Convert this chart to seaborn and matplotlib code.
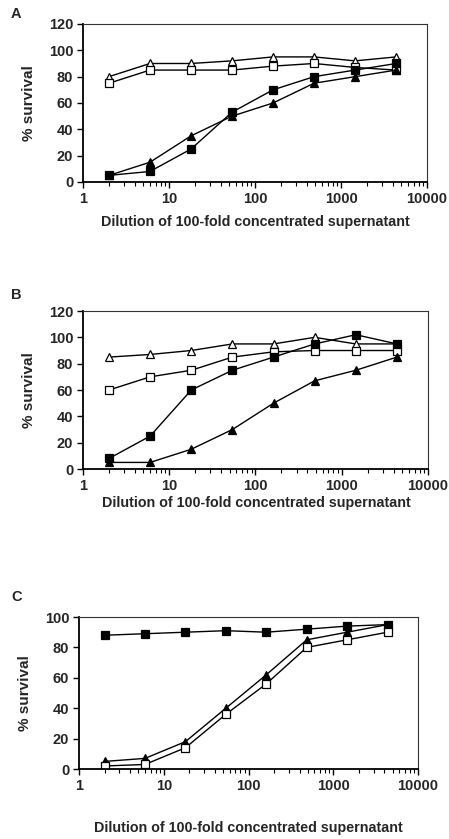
import matplotlib
matplotlib.use('Agg')
import matplotlib.pyplot as plt
import matplotlib.ticker as mticker
import seaborn as sns

dilution = [2, 6, 18, 54, 162, 486, 1458, 4374]

# panel A
a_open_tri = [80, 90, 90, 92, 95, 95, 92, 95]
a_open_sq = [75, 85, 85, 85, 88, 90, 87, 85]
a_fill_sq = [5, 8, 25, 53, 70, 80, 85, 90]
a_fill_tri = [5, 15, 35, 50, 60, 75, 80, 85]

# panel B
b_open_tri = [85, 87, 90, 95, 95, 100, 95, 95]
b_open_sq = [60, 70, 75, 85, 89, 90, 90, 90]
b_fill_sq = [8, 25, 60, 75, 85, 95, 102, 95]
b_fill_tri = [5, 5, 15, 30, 50, 67, 75, 85]

# panel C
c_fill_sq = [88, 89, 90, 91, 90, 92, 94, 95]
c_fill_tri = [5, 7, 18, 40, 62, 85, 90, 95]
c_open_sq = [2, 3, 14, 36, 56, 80, 85, 90]

sns.set_style('white')
plt.rcParams['font.family'] = ['Liberation Sans', 'DejaVu Sans']
plt.rcParams['font.weight'] = 'bold'
plt.rcParams['axes.labelweight'] = 'bold'

W, H = 449, 839
fig = plt.figure(figsize=(W / 100, H / 100), dpi=100)

styles = {
    'open_tri': dict(marker='^', markerfacecolor='white'),
    'open_sq': dict(marker='s', markerfacecolor='white'),
    'fill_sq': dict(marker='s', markerfacecolor='black'),
    'fill_tri': dict(marker='^', markerfacecolor='black'),
}


def draw_panel(rect, series, ymax, xlabel_y):
    ax = fig.add_axes(rect)
    for kind, vals in series:
        sns.lineplot(x=dilution, y=vals, ax=ax, color='black', linewidth=1,
                     markersize=5.6, markeredgecolor='black',
                     markeredgewidth=0.9, **styles[kind])
    ax.set_xscale('log')
    ax.set_xlim(1, 10000)
    ax.set_ylim(0, ymax)
    ax.set_yticks(range(0, ymax + 1, 20))
    ax.xaxis.set_major_locator(mticker.FixedLocator([1, 10, 100, 1000, 10000]))
    ax.xaxis.set_major_formatter(mticker.FixedFormatter(['1', '10', '100', '1000', '10000']))
    ax.xaxis.set_minor_locator(mticker.LogLocator(base=10, subs=range(2, 10)))
    ax.xaxis.set_minor_formatter(mticker.NullFormatter())
    ax.tick_params(axis='both', which='major', direction='out', length=4,
                   width=1, labelsize=10.5, pad=3, color='black')
    ax.tick_params(axis='x', which='minor', direction='out', length=3,
                   width=0.8, color='black')
    ax.tick_params(axis='x', which='both', bottom=True)
    ax.tick_params(axis='y', left=True)
    for t in ax.get_xticklabels() + ax.get_yticklabels():
        t.set_fontweight('bold')
    for side in ['left', 'bottom']:
        ax.spines[side].set_linewidth(1.3)
        ax.spines[side].set_color('black')
    for side in ['top', 'right']:
        ax.spines[side].set_linewidth(0.8)
        ax.spines[side].set_color('#333333')
    ax.set_ylabel('% survival', fontsize=11, fontweight='bold', labelpad=9)
    ax.set_xlabel('Dilution of 100-fold concentrated supernatant', fontsize=10.3,
                  fontweight='bold')
    ax.xaxis.label.set_va('center')
    ax.xaxis.set_label_coords(0.5, 1 - xlabel_y / H, transform=fig.transFigure)
    return ax


axA = draw_panel([0.185, 0.7831, 0.766, 0.1883],
                 [('open_tri', a_open_tri), ('open_sq', a_open_sq),
                  ('fill_sq', a_fill_sq), ('fill_tri', a_fill_tri)], 120, 222)
axB = draw_panel([0.185, 0.441, 0.768, 0.1883],
                 [('open_tri', b_open_tri), ('open_sq', b_open_sq),
                  ('fill_sq', b_fill_sq), ('fill_tri', b_fill_tri)], 120, 503)
axC = draw_panel([0.176, 0.0834, 0.755, 0.1812],
                 [('fill_sq', c_fill_sq), ('fill_tri', c_fill_tri),
                  ('open_sq', c_open_sq)], 100, 828)

for ax, cx in [(axA, 255), (axB, 256), (axC, 248)]:
    ax.xaxis.label.set_x(cx / W)

for letter, ypix in [('A', 14), ('B', 295), ('C', 597)]:
    fig.text(11 / W, 1 - ypix / H, letter, fontsize=10.5, fontweight='bold',
             va='center', ha='left')

fig.savefig('out.png', dpi=100, facecolor='white')
